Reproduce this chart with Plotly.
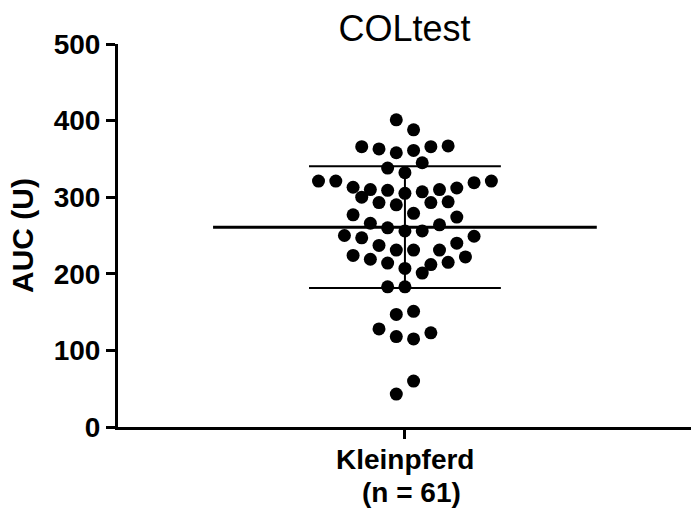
import numpy as np
import plotly.graph_objects as go

# AUC values (U) for the Kleinpferd group, n = 61
auc_values = [
    401, 388, 366, 363, 358, 361, 366, 367, 345, 338, 332,
    321, 321, 319, 321, 313, 310, 309, 305, 307, 310, 312,
    300, 293, 290, 293, 294,
    277, 279, 274, 266, 260, 264, 256, 256,
    250, 247, 249, 237, 240, 231, 231, 231,
    224, 219, 222, 214, 215, 212, 207, 201,
    183, 183, 147, 151, 128, 118, 115, 123, 60, 43,
]

# horizontal swarm column of each point (in dot widths from the group centre)
swarm_column = [
    -0.5, 0.5, -2.5, -1.5, -0.5, 0.5, 1.5, 2.5, 1, -1, 0,
    -5, -4, 4, 5, -3, -2, -1, 0, 1, 2, 3,
    -2.5, -1.5, -0.5, 1.5, 2.5,
    -3, 0.5, 3, -2, -1, 2, 0, 1,
    -3.5, -2.5, 4, -1.5, 3, -0.5, 0.5, 2,
    -3, -2, 3.5, -1, 2.5, 1.5, 0, 1,
    -1, 0, -0.5, 0.5, -1.5, -0.5, 0.5, 1.5, 0.5, -0.5,
]

group_name = "Kleinpferd"
group_n = "(n = 61)"
y_ticks = [0, 100, 200, 300, 400, 500]

vals = np.array(auc_values, dtype=float)
mean = vals.mean()
sd = vals.std(ddof=1)

FONT = "Liberation Sans, Arial, Helvetica, sans-serif"
mean_half = 11.1
sd_half = 5.55

fig = go.Figure()

# mean line
fig.add_trace(go.Scatter(
    x=[-mean_half, mean_half], y=[mean, mean], mode="lines",
    line=dict(color="black", width=3), hoverinfo="skip", showlegend=False))
# SD bars
fig.add_trace(go.Scatter(
    x=[-sd_half, sd_half, None, -sd_half, sd_half, None, 0, 0],
    y=[mean + sd, mean + sd, None, mean - sd, mean - sd, None, mean - sd, mean + sd],
    mode="lines", line=dict(color="black", width=2),
    hoverinfo="skip", showlegend=False))
# individual animals
fig.add_trace(go.Scatter(
    x=swarm_column, y=auc_values, mode="markers",
    marker=dict(color="black", size=13, line=dict(width=0)),
    showlegend=False))

label_font = dict(size=28, family=FONT, color="black", weight="bold")

fig.update_layout(
    width=691, height=508,
    margin=dict(l=118, r=0, t=44, b=81),
    paper_bgcolor="white", plot_bgcolor="white",
    font=dict(family=FONT, color="black"),
    title=dict(text="COLtest", x=0.5, xref="paper", xanchor="center",
               y=0.968, yref="container", yanchor="top",
               font=dict(size=36, family=FONT, color="black")),
    annotations=[
        dict(text=group_name, x=0, xref="x", y=0, yref="paper",
             xanchor="center", yanchor="middle", yshift=-32,
             showarrow=False, font=label_font),
        dict(text=group_n, x=0, xref="x", y=0, yref="paper",
             xanchor="center", yanchor="middle", yshift=-65, xshift=7,
             showarrow=False, font=label_font),
    ],
)

fig.update_xaxes(
    range=[-16.6, 16.55], tickmode="array", tickvals=[0], ticktext=[""],
    showline=True, linecolor="black", linewidth=3,
    ticks="outside", ticklen=9, tickwidth=3, tickcolor="black",
    showgrid=False, zeroline=False, automargin=False,
)
fig.update_yaxes(
    range=[0, 500], tickmode="array", tickvals=y_ticks,
    ticktext=[str(t) for t in y_ticks],
    showline=True, linecolor="black", linewidth=3,
    ticks="outside", ticklen=9, tickwidth=3, tickcolor="black",
    showgrid=False, zeroline=False, automargin=False,
    tickfont=label_font,
    title=dict(text="AUC (U)", standoff=12,
               font=dict(size=30, family=FONT, color="black", weight="bold")),
)

fig.write_html("out.html")
